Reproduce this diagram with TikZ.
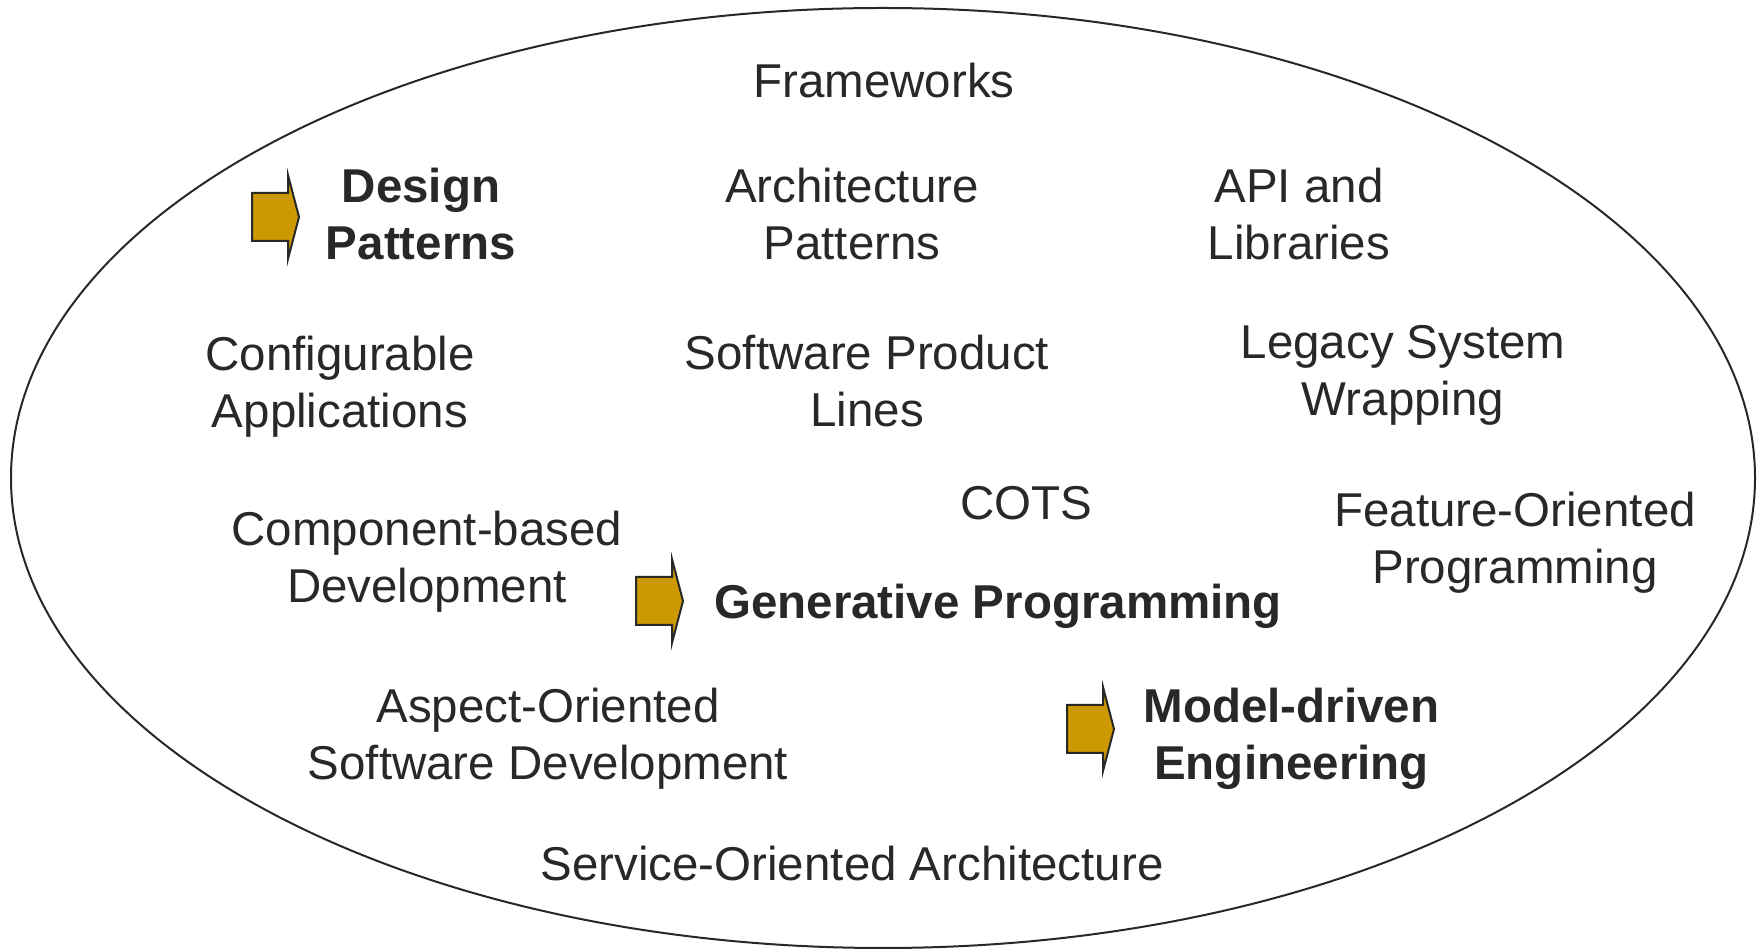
\documentclass[tikz,border=0pt]{standalone}
\usepackage{fontspec}
\setmainfont{Liberation Sans}
\definecolor{inkgray}{RGB}{40,40,40}
\definecolor{arrowgold}{RGB}{204,153,0}
\begin{document}
\begin{tikzpicture}[x=1pt,y=1pt,
  label/.style={text=inkgray,align=center,font=\fontsize{47.5}{57}\selectfont,inner sep=0pt},
  keylabel/.style={label,font=\fontsize{47.5}{57}\selectfont\bfseries},
  pics/blockarrow/.style={code={
    \draw[fill=arrowgold,draw=inkgray,line width=2pt,line join=miter]
      (0,-24) -- (36,-24) -- (36,-42) -- (47,0) -- (36,42) -- (36,24) -- (0,24) -- cycle;
  }}]
\useasboundingbox (0,0) rectangle (1764,950);
% outer ellipse
\draw[inkgray,line width=2pt] (883,472) ellipse [x radius=872, y radius=470];

% reuse techniques
\node[label]    (fw)   at (884,869)  {Frameworks};
\node[keylabel] (dp)   at (421,736)  {Design\\Patterns};
\node[label]    (ap)   at (852,736)  {Architecture\\Patterns};
\node[label]    (api)  at (1299,736) {API and\\Libraries};
\node[label]    (ca)   at (340,563.5) {Configurable\\Applications};
\node[label]    (spl)  at (867,569)  {Software Product\\Lines};
\node[label]    (lsw)  at (1403,574.5) {Legacy System\\Wrapping};
\node[label]    (cots) at (1026,447) {COTS};
\node[label]    (fop)  at (1515,407.5) {Feature-Oriented\\Programming};
\node[label]    (cbd)  at (427,388.5) {Component-based\\Development};
\node[keylabel] (gp)   at (998,343.5) {Generative Programming};
\node[label]    (aosd) at (548,211.5) {Aspect-Oriented\\Software Development};
\node[keylabel] (mde)  at (1291.5,211.5) {Model-driven\\Engineering};
\node[label]    (soa)  at (852,86)   {Service-Oriented Architecture};

% highlight arrows
\pic at (252,733)  {blockarrow};
\pic at (636,349)  {blockarrow};
\pic at (1067,221) {blockarrow};
\end{tikzpicture}
\end{document}
